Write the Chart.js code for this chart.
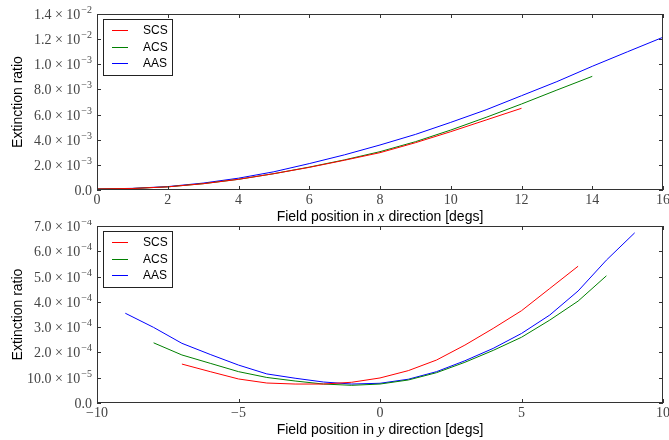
<!DOCTYPE html>
<html>
<head>
<meta charset="utf-8">
<script src="https://cdn.jsdelivr.net/npm/chart.js@4.4.0/dist/chart.umd.min.js"></script>
<style>
html, body { margin: 0; padding: 0; background: #fff; }
#wrap { position: relative; width: 669px; height: 440px; }
canvas { display: block; position: absolute; left: 0; }
#topChart { top: 0; }
#bottomChart { top: 220px; }
</style>
</head>
<body>
<div id="wrap">
  <canvas id="topChart" width="669" height="230"></canvas>
  <canvas id="bottomChart" width="669" height="220"></canvas>
</div>
<script>
// --- DATA: top panel (field position in x) ---
const topScsX = [0, 1, 2, 3, 4, 5, 6, 7, 8, 9, 10, 11, 12];
const topScs = [0.00008, 0.00012, 0.00025, 0.0005, 0.00085, 0.0013, 0.0018, 0.00237, 0.00297, 0.00376, 0.00464, 0.00557, 0.0065];
const topAcsX = [0, 1, 2, 3, 4, 5, 6, 7, 8, 9, 10, 11, 12, 13, 14];
const topAcs = [0.00008, 0.00012, 0.00025, 0.0005, 0.00085, 0.0013, 0.00182, 0.0024, 0.00305, 0.00384, 0.00477, 0.00578, 0.00684, 0.00795, 0.00904];
const topAasX = [0, 1, 2, 3, 4, 5, 6, 7, 8, 9, 10, 11, 12, 13, 14, 15, 16];
const topAas = [0.00008, 0.00013, 0.00027, 0.00055, 0.00094, 0.00145, 0.0021, 0.0028, 0.00358, 0.00442, 0.00538, 0.00638, 0.0075, 0.00862, 0.00984, 0.0110, 0.01215];
const topXTickLabels = ['0', '2', '4', '6', '8', '10', '12', '14', '16'];
// "^" separates the mantissa from the superscript exponent
const topYTickLabels = ['0.0', '2.0 × 10^\u22123', '4.0 × 10^\u22123', '6.0 × 10^\u22123', '8.0 × 10^\u22123', '1.0 × 10^\u22123', '1.2 × 10^\u22122', '1.4 × 10^\u22122'];

// --- DATA: bottom panel (field position in y) ---
const botScsX = [-7, -6, -5, -4, -3, -2, -1, 0, 1, 2, 3, 4, 5, 6, 7];
const botScs = [1.54e-4, 1.24e-4, 0.95e-4, 0.79e-4, 0.75e-4, 0.75e-4, 0.82e-4, 0.99e-4, 1.28e-4, 1.70e-4, 2.29e-4, 2.95e-4, 3.65e-4, 4.53e-4, 5.41e-4];
const botAcsX = [-8, -7, -6, -5, -4, -3, -2, -1, 0, 1, 2, 3, 4, 5, 6, 7, 8];
const botAcs = [2.38e-4, 1.90e-4, 1.57e-4, 1.24e-4, 1.01e-4, 0.87e-4, 0.75e-4, 0.70e-4, 0.75e-4, 0.91e-4, 1.20e-4, 1.61e-4, 2.08e-4, 2.60e-4, 3.28e-4, 4.03e-4, 5.03e-4];
const botAasX = [-9, -8, -7, -6, -5, -4, -3, -2, -1, 0, 1, 2, 3, 4, 5, 6, 7, 8, 9];
const botAas = [3.55e-4, 2.99e-4, 2.36e-4, 1.92e-4, 1.50e-4, 1.15e-4, 0.98e-4, 0.83e-4, 0.75e-4, 0.78e-4, 0.94e-4, 1.24e-4, 1.67e-4, 2.16e-4, 2.75e-4, 3.48e-4, 4.43e-4, 5.65e-4, 6.73e-4];
const botXTickLabels = ['\u221210', '\u22125', '0', '5', '10'];
const botYTickLabels = ['0.0', '10.0 × 10^\u22125', '2.0 × 10^\u22124', '3.0 × 10^\u22124', '4.0 × 10^\u22124', '5.0 × 10^\u22124', '6.0 × 10^\u22124', '7.0 × 10^\u22124'];

const seriesNames = ['SCS', 'ACS', 'AAS'];
const seriesColors = ['#ff0000', '#008000', '#0000ff'];

const serif = '"Liberation Serif", "DejaVu Serif", serif';
const sans = '"Liberation Sans", Arial, sans-serif';
const tickColor = '#444';

// --- frame, inward ticks, tick labels, legend box, axis titles ---
const framePlugin = {
    id: 'frame',
    afterDraw(chart, args, opts) {
        const ctx = chart.ctx;
        const a = chart.chartArea;
        const xs = chart.scales.x, ys = chart.scales.y;
        ctx.save();
        ctx.strokeStyle = '#333';
        ctx.lineWidth = 1;

        // inward tick marks on all four sides
        ctx.beginPath();
        xs.ticks.forEach(t => {
            const px = Math.round(xs.getPixelForValue(t.value)) + 0.5;
            ctx.moveTo(px, a.bottom); ctx.lineTo(px, a.bottom - 4);
            ctx.moveTo(px, a.top); ctx.lineTo(px, a.top + 4);
        });
        ys.ticks.forEach(t => {
            const py = Math.round(ys.getPixelForValue(t.value)) + 0.5;
            ctx.moveTo(a.left, py); ctx.lineTo(a.left + 4, py);
            ctx.moveTo(a.right, py); ctx.lineTo(a.right - 4, py);
        });
        ctx.stroke();

        // box
        ctx.strokeRect(a.left + 0.5, a.top + 0.5, a.right - a.left - 1, a.bottom - a.top - 1);

        // x tick labels
        ctx.fillStyle = tickColor;
        ctx.font = '14px ' + serif;
        ctx.textAlign = 'center';
        ctx.textBaseline = 'middle';
        xs.ticks.forEach((t, i) => {
            ctx.fillText(opts.xLabels[i], xs.getPixelForValue(t.value), a.bottom + 10);
        });

        // y tick labels, mantissa plus raised exponent
        ctx.textBaseline = 'alphabetic';
        ctx.textAlign = 'left';
        ys.ticks.forEach((t, i) => {
            const py = ys.getPixelForValue(t.value);
            const [mant, expo] = opts.yLabels[i].split('^');
            ctx.font = '10px ' + serif;
            const ew = expo ? ctx.measureText(expo).width : 0;
            ctx.font = '14px ' + serif;
            const mw = ctx.measureText(mant).width;
            const right = a.left - 5;
            ctx.fillText(mant, right - ew - mw - (expo ? 1 : 0), py + 5);
            if (expo) {
                ctx.font = '10px ' + serif;
                ctx.fillText(expo, right - ew, py - 1);
            }
        });

        // legend
        const lx = a.left + 6, ly = a.top + 5;
        ctx.fillStyle = '#fff';
        ctx.fillRect(lx, ly, 69, 56);
        ctx.strokeStyle = '#222';
        ctx.strokeRect(lx + 0.5, ly + 0.5, 69, 56);
        ctx.font = '12px ' + sans;
        ctx.textBaseline = 'middle';
        ctx.textAlign = 'left';
        chart.data.datasets.forEach((ds, i) => {
            const ry = Math.round(ly + 11 + i * 16.5) + 0.5;
            ctx.strokeStyle = ds.borderColor;
            ctx.beginPath();
            ctx.moveTo(lx + 9, ry); ctx.lineTo(lx + 25, ry);
            ctx.stroke();
            ctx.fillStyle = '#000';
            ctx.fillText(ds.label, lx + 40, ry);
        });

        // y title
        ctx.fillStyle = '#000';
        ctx.font = '14px ' + sans;
        ctx.save();
        ctx.translate(18, (a.top + a.bottom) / 2);
        ctx.rotate(-Math.PI / 2);
        ctx.textAlign = 'center';
        ctx.fillText('Extinction ratio', 0, 0);
        ctx.restore();

        // x title with italic variable
        const parts = [['Field position in ', '14px ' + sans], [opts.variable, 'italic 15px ' + serif], [' direction [degs]', '14px ' + sans]];
        let total = 0;
        parts.forEach(p => { ctx.font = p[1]; total += ctx.measureText(p[0]).width; });
        let cx = (a.left + a.right) / 2 - total / 2;
        ctx.textAlign = 'left';
        ctx.textBaseline = 'middle';
        parts.forEach(p => {
            ctx.font = p[1];
            ctx.fillText(p[0], cx, opts.titleY);
            cx += ctx.measureText(p[0]).width;
        });
        ctx.restore();
    }
};

function makeDatasets(xLists, yLists) {
    return seriesNames.map((name, i) => ({
        label: name,
        data: xLists[i].map((x, j) => ({ x: x, y: yLists[i][j] })),
        borderColor: seriesColors[i],
        backgroundColor: seriesColors[i],
        borderWidth: 1,
        pointRadius: 0,
        tension: 0,
        fill: false
    }));
}

function makeChart(id, datasets, cfg) {
    return new Chart(document.getElementById(id), {
        type: 'line',
        data: { datasets: datasets },
        options: {
            responsive: false,
            animation: false,
            devicePixelRatio: 1,
            layout: { padding: { top: cfg.padTop, right: 6, left: 0, bottom: 0 } },
            plugins: {
                legend: { display: false },
                tooltip: { enabled: false },
                frame: { variable: cfg.variable, titleY: cfg.titleY, xLabels: cfg.xLabels, yLabels: cfg.yLabels }
            },
            scales: {
                x: {
                    type: 'linear',
                    min: cfg.xMin, max: cfg.xMax,
                    grid: { display: false },
                    border: { display: false },
                    ticks: { stepSize: cfg.xStep, autoSkip: false, maxRotation: 0, display: false },
                    afterFit(s) { s.height = cfg.xHeight; s.paddingLeft = 0; s.paddingRight = 0; }
                },
                y: {
                    min: 0, max: cfg.yMax,
                    grid: { display: false },
                    border: { display: false },
                    ticks: { stepSize: cfg.yStep, autoSkip: false, display: false },
                    afterFit(s) { s.width = 97; s.paddingTop = 0; s.paddingBottom = 0; }
                }
            }
        },
        plugins: [framePlugin]
    });
}

makeChart('topChart',
    makeDatasets([topScsX, topAcsX, topAasX], [topScs, topAcs, topAas]),
    { padTop: 14, xHeight: 40, xMin: 0, xMax: 16, xStep: 2, yMax: 0.014, yStep: 0.002,
      xLabels: topXTickLabels, yLabels: topYTickLabels, variable: 'x', titleY: 217 });

makeChart('bottomChart',
    makeDatasets([botScsX, botAcsX, botAasX], [botScs, botAcs, botAas]),
    { padTop: 6, xHeight: 37, xMin: -10, xMax: 10, xStep: 5, yMax: 0.0007, yStep: 0.0001,
      xLabels: botXTickLabels, yLabels: botYTickLabels, variable: 'y', titleY: 210 });
</script>
</body>
</html>
